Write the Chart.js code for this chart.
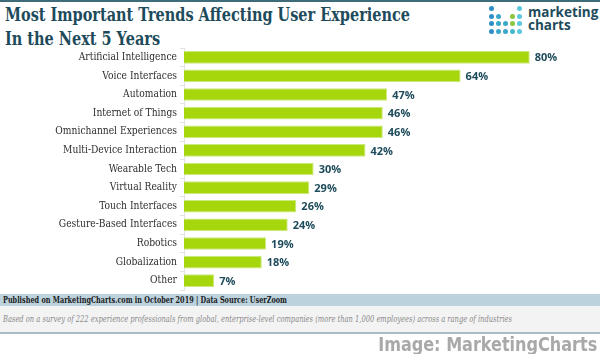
<!DOCTYPE html>
<html>
<head>
    <title>Most Important Trends Affecting User Experience</title>
    <script src="https://cdn.jsdelivr.net/npm/chart.js@4.4.0/dist/chart.umd.min.js"></script>
    <style>
        body { margin: 0; width: 600px; height: 354px; position: relative; overflow: hidden; background: #fff; }
        #topLine { position: absolute; left: 0; top: 0; width: 600px; height: 2px; background: #3f6c7b; }
        .line { position: absolute; white-space: nowrap; transform-origin: left top; }
        .title { left: 5px; font-family: "DejaVu Serif", serif; font-weight: bold; font-size: 19px; line-height: 20px; color: #1d4b5b; }
        #logo { position: absolute; left: 486px; top: 4px; width: 114px; height: 36px; }
        #logo .dot { position: absolute; width: 5px; height: 5px; border-radius: 50%; }
        #logoText { position: absolute; left: 42px; top: 2px; font-family: "Open Sans", sans-serif; font-weight: bold; font-size: 13.5px; line-height: 13px; color: #1d4b5b; }
        #chartWrap { position: absolute; left: 0; top: 0; width: 600px; height: 354px; }
        #pubBar { position: absolute; left: 0; top: 294px; width: 600px; height: 12px; background: #bcd3de; }
        #noteBar { position: absolute; left: 0; top: 306px; width: 600px; height: 26px; background: #f3f3f3; border-bottom: 2px solid #a9bcc6; }
        #pubText { left: 3px; top: 294px; font-family: "DejaVu Serif", serif; font-weight: bold; font-size: 9.5px; line-height: 12px; color: #1a1a1a; }
        #noteText { left: 3px; top: 312px; font-family: "DejaVu Serif", serif; font-style: italic; font-size: 9px; line-height: 14px; color: #8a8a8a; }
        #credit { top: 334px; font-family: "DejaVu Sans Condensed", "DejaVu Sans", sans-serif; font-weight: bold; font-size: 19px; line-height: 20px; color: #a9a9a9; transform-origin: right top; right: 3px; }
    </style>
</head>
<body>
    <div id="topLine"></div>
    <div class="line title" id="title1" style="top:4px">Most Important Trends Affecting User Experience</div>
    <div class="line title" id="title2" style="top:28px">In the Next 5 Years</div>
    <div id="logo"><div id="logoText">marketing<br>charts</div></div>

    <div id="chartWrap">
        <canvas id="barChart" width="600" height="354"></canvas>
    </div>

    <div id="pubBar"></div>
    <div id="noteBar"></div>
    <div class="line" id="pubText">Published on MarketingCharts.com in October 2019 | Data Source: UserZoom</div>
    <div class="line" id="noteText">Based on a survey of 222 experience professionals from global, enterprise-level companies (more than 1,000 employees) across a range of industries</div>
    <div class="line" id="credit">Image: MarketingCharts</div>

    <script>
        const trends = ['Artificial Intelligence', 'Voice Interfaces', 'Automation', 'Internet of Things',
            'Omnichannel Experiences', 'Multi-Device Interaction', 'Wearable Tech', 'Virtual Reality',
            'Touch Interfaces', 'Gesture-Based Interfaces', 'Robotics', 'Globalization', 'Other'];
        const shares = [80, 64, 47, 46, 46, 42, 30, 29, 26, 24, 19, 18, 7];

        // squeeze text lines to the width they take in the original
        function fitWidth(id, w) {
            const el = document.getElementById(id);
            const s = w / el.getBoundingClientRect().width;
            el.style.transform = 'scaleX(' + s + ')';
        }
        fitWidth('title1', 405);
        const t2 = document.getElementById('title2');
        t2.style.transform = document.getElementById('title1').style.transform;
        fitWidth('pubText', 284);
        fitWidth('noteText', 509);
        fitWidth('credit', 219);

        // logo dots (row, col, colour)
        const logo = document.getElementById('logo');
        const dots = [
            [0, 0, '#2e8fc4'], [0, 4, '#5cc8de'],
            [1, 0, '#2e8fc4'], [1, 1, '#3aa8c8'], [1, 3, '#8cc63f'], [1, 4, '#5cc8de'],
            [2, 0, '#2e8fc4'], [2, 1, '#3aa8c8'], [2, 2, '#3aa8c8'], [2, 3, '#8cc63f'], [2, 4, '#5cc8de'],
            [3, 0, '#2e8fc4'], [3, 1, '#3aa8c8'], [3, 2, '#3aa8c8'], [3, 3, '#45b5c9'], [3, 4, '#5cc8de']
        ];
        dots.forEach(d => {
            const el = document.createElement('div');
            el.className = 'dot';
            el.style.left = (3 + d[1] * 7) + 'px';
            el.style.top = (2 + d[0] * 7.5) + 'px';
            el.style.background = d[2];
            logo.appendChild(el);
        });

        // value labels at the end of each bar
        const valueLabels = {
            id: 'valueLabels',
            afterDatasetsDraw(chart) {
                const ctx = chart.ctx;
                const meta = chart.getDatasetMeta(0);
                ctx.save();
                ctx.font = 'bold 11px "Open Sans", sans-serif';
                ctx.fillStyle = '#1d4b5b';
                ctx.textBaseline = 'middle';
                ctx.textAlign = 'left';
                meta.data.forEach((bar, i) => {
                    ctx.fillText(shares[i] + '%', bar.x + 5, bar.y + 1);
                });
                ctx.restore();
            }
        };

        const ctx = document.getElementById('barChart').getContext('2d');
        new Chart(ctx, {
            type: 'bar',
            data: {
                labels: trends,
                datasets: [{
                    data: shares,
                    backgroundColor: '#a6d60c',
                    borderColor: '#cde97e',
                    borderWidth: 1,
                    barPercentage: 0.68,
                    categoryPercentage: 1
                }]
            },
            plugins: [valueLabels],
            options: {
                indexAxis: 'y',
                responsive: false,
                animation: false,
                layout: { padding: { top: 48, bottom: 64, right: 40, left: 0 } },
                plugins: { legend: { display: false }, tooltip: { enabled: false } },
                scales: {
                    x: { display: false, min: 0, max: 87 },
                    y: {
                        afterFit(scale) { scale.width = 184; },
                        border: { color: '#e3e3e3' },
                        grid: { drawOnChartArea: false, tickLength: 4, color: '#e3e3e3', offset: true },
                        ticks: {
                            padding: 3,
                            color: '#2e2e2e',
                            font: { family: '"DejaVu Serif Condensed", "DejaVu Serif", serif', size: 10.2 }
                        }
                    }
                }
            }
        });
    </script>
</body>
</html>
